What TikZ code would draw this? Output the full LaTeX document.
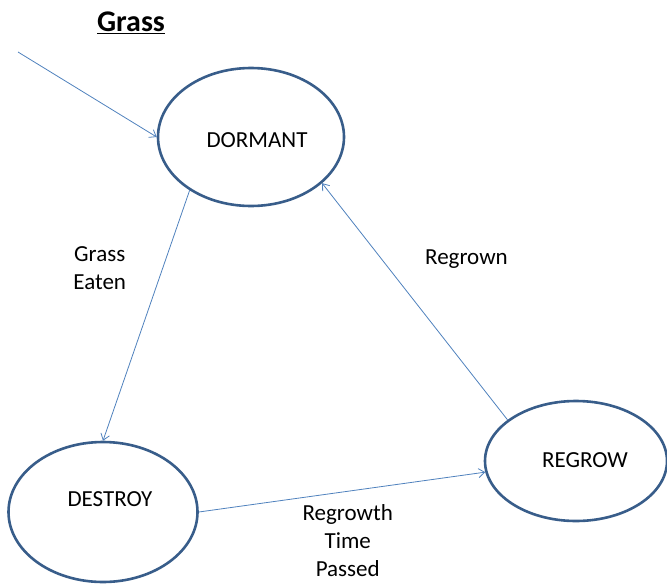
\documentclass[tikz,border=0pt]{standalone}
\usepackage{fontspec}
\setmainfont{Carlito}
\usetikzlibrary{arrows.meta,shapes.geometric}
\definecolor{edgeblue}{RGB}{79,129,189}
\definecolor{rimblue}{RGB}{56,93,138}

\begin{document}
\begin{tikzpicture}[x=1pt, y=-1pt, >={Straight Barb[length=6pt, width=9pt]},
  state/.style={ellipse, draw=rimblue, line width=2.6pt, inner sep=0pt},
  tr/.style={->, draw=edgeblue, line width=0.8pt},
  lbl/.style={font=\fontsize{23}{28}\selectfont, align=center}]
\useasboundingbox (0,0) rectangle (667,584);
\node[font=\fontsize{30}{34}\selectfont\bfseries] (title) at (131,23) {\underline{Grass}};
\node[state, minimum width=186pt, minimum height=138pt,
  label={[lbl, xshift=6pt, yshift=-3pt]center:DORMANT}] (dormant) at (251,137) {};
\node[state, minimum width=189pt, minimum height=140pt,
  label={[lbl, xshift=7pt, yshift=13pt]center:DESTROY}] (destroy) at (103,512) {};
\node[state, minimum width=182pt, minimum height=120pt,
  label={[lbl, xshift=9pt, yshift=1pt]center:REGROW}] (regrow) at (576,461) {};
\coordinate (start) at (18,52);
\draw[tr] (start) -- (dormant.west);
\draw[tr] (dormant.221) -- node[lbl, pos=0.31, left=33pt] {Grass\\Eaten} (destroy.north);
\draw[tr] (regrow.149) -- node[lbl, pos=0.68, right=40pt] {Regrown} (dormant.327);
\draw[tr] (destroy.east) -- node[lbl, pos=0.52, below=10pt] {Regrowth\\Time\\Passed} (regrow.187);
\end{tikzpicture}
\end{document}
